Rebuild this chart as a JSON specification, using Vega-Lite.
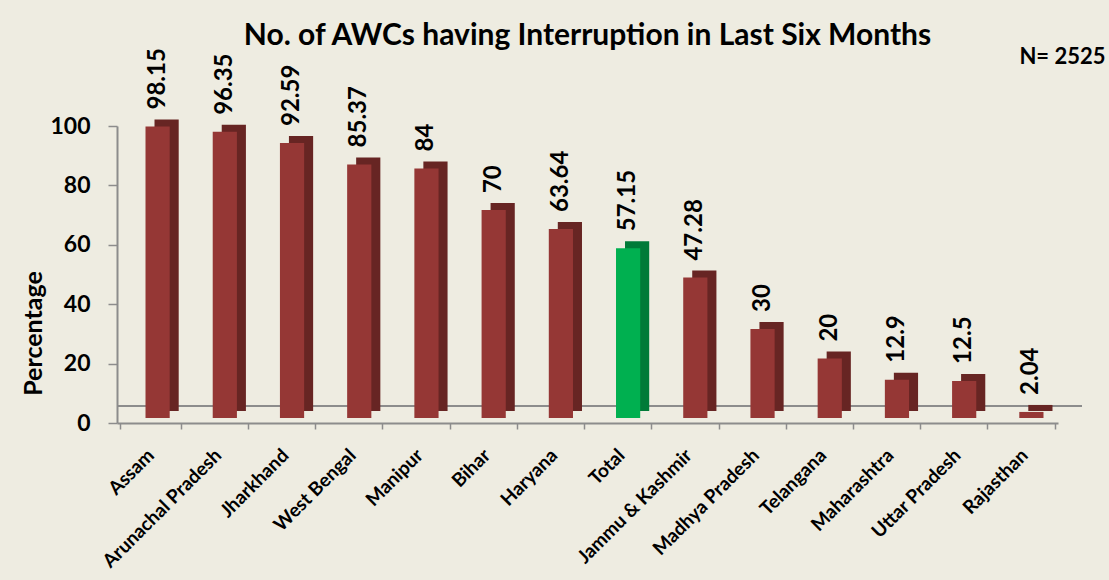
{
  "$schema": "https://vega.github.io/schema/vega-lite/v6.json",
  "autosize": {"type": "none"},
  "width": 941,
  "height": 297,
  "padding": {"left": 117, "top": 126, "right": 51, "bottom": 157},
  "background": "#EEECE1",
  "config": {
    "view": {"stroke": null},
    "font": "Lato",
    "axis": {"grid": false}
  },
  "title": {
    "text": "No. of AWCs having Interruption in Last Six Months",
    "font": "Lato",
    "fontSize": 30,
    "fontWeight": "bold",
    "color": "#000000",
    "anchor": "middle",
    "offset": -6
  },
  "data": {
    "values": [
      {"state": "Assam", "value": 98.15},
      {"state": "Arunachal Pradesh", "value": 96.35},
      {"state": "Jharkhand", "value": 92.59},
      {"state": "West Bengal", "value": 85.37},
      {"state": "Manipur", "value": 84},
      {"state": "Bihar", "value": 70},
      {"state": "Haryana", "value": 63.64},
      {"state": "Total", "value": 57.15},
      {"state": "Jammu & Kashmir", "value": 47.28},
      {"state": "Madhya Pradesh", "value": 30},
      {"state": "Telangana", "value": 20},
      {"state": "Maharashtra", "value": 12.9},
      {"state": "Uttar Pradesh", "value": 12.5},
      {"state": "Rajasthan", "value": 2.04}
    ]
  },
  "layer": [
    {
      "mark": {"type": "rule", "color": "#8C8C8C", "strokeWidth": 2, "xOffset": 24, "yOffset": -17},
      "encoding": {
        "y": {
          "datum": 0, "type": "quantitative", "scale": {"domain": [0, 100]},
          "axis": {
            "title": "Percentage",
            "titleFont": "Lato",
            "titleFontSize": 25,
            "titleFontWeight": "bold",
            "titleColor": "#000000",
            "titleAngle": 270,
            "titleAlign": "center",
            "titleBaseline": "middle",
            "titleX": -84,
            "titleY": 207,
            "values": [0, 20, 40, 60, 80, 100],
            "domainColor": "#8C8C8C",
            "domainWidth": 2,
            "tickColor": "#8C8C8C",
            "tickWidth": 1.5,
            "tickSize": 9,
            "labelFont": "Lato",
            "labelFontSize": 23,
            "labelFontWeight": "bold",
            "labelColor": "#000000",
            "labelPadding": 18
          }
        }
      }
    },
    {
      "resolve": {"axis": {"x": "independent"}},
      "layer": [
        {
          "mark": {"type": "bar", "width": {"band": 0.4}, "xOffset": 16, "yOffset": -12},
          "encoding": {
            "x": {"field": "state", "type": "nominal", "sort": null, "axis": null},
            "y": {"field": "value", "type": "quantitative", "scale": {"domain": [0, 100]}},
            "color": {
              "condition": {"test": "datum.state === 'Total'", "value": "#007A38"},
              "value": "#672523"
            }
          }
        },
        {
          "mark": {"type": "bar", "width": {"band": 0.4}, "xOffset": 7, "yOffset": -5},
          "encoding": {
            "x": {
              "field": "state", "type": "nominal", "sort": null,
              "axis": {
                "title": null,
                "orient": "bottom",
                "domainColor": "#8C8C8C",
                "domainWidth": 2,
                "tickColor": "#8C8C8C",
                "tickWidth": 1.5,
                "tickSize": 6,
                "tickBand": "extent",
                "labelAngle": -45,
                "labelAlign": "right",
                "labelBaseline": "middle",
                "labelFont": "Lato",
                "labelFontSize": 19,
                "labelFontWeight": "bold",
                "labelColor": "#000000",
                "labelPadding": 23
              }
            },
            "y": {"field": "value", "type": "quantitative", "scale": {"domain": [0, 100]}},
            "color": {
              "condition": {"test": "datum.state === 'Total'", "value": "#00B050"},
              "value": "#953735"
            }
          }
        },
        {
          "mark": {"type": "text", "angle": 270, "align": "left", "baseline": "middle", "xOffset": 7, "yOffset": -22, "font": "Lato", "fontSize": 24, "fontWeight": "bold", "color": "#000000"},
          "encoding": {
            "x": {
              "field": "state", "type": "nominal", "sort": null,
              "axis": {
                "orient": "top",
                "labels": false,
                "ticks": false,
                "domain": false,
                "title": "N= 2525",
                "titleFont": "Lato",
                "titleFontSize": 22,
                "titleFontWeight": "bold",
                "titleColor": "#000000",
                "titleAnchor": "end",
                "titleAlign": "right",
                "titleBaseline": "alphabetic",
                "titleX": 988,
                "titleY": -63
              }
            },
            "y": {"field": "value", "type": "quantitative", "scale": {"domain": [0, 100]}},
            "text": {"field": "value", "type": "quantitative"}
          }
        }
      ]
    }
  ]
}
